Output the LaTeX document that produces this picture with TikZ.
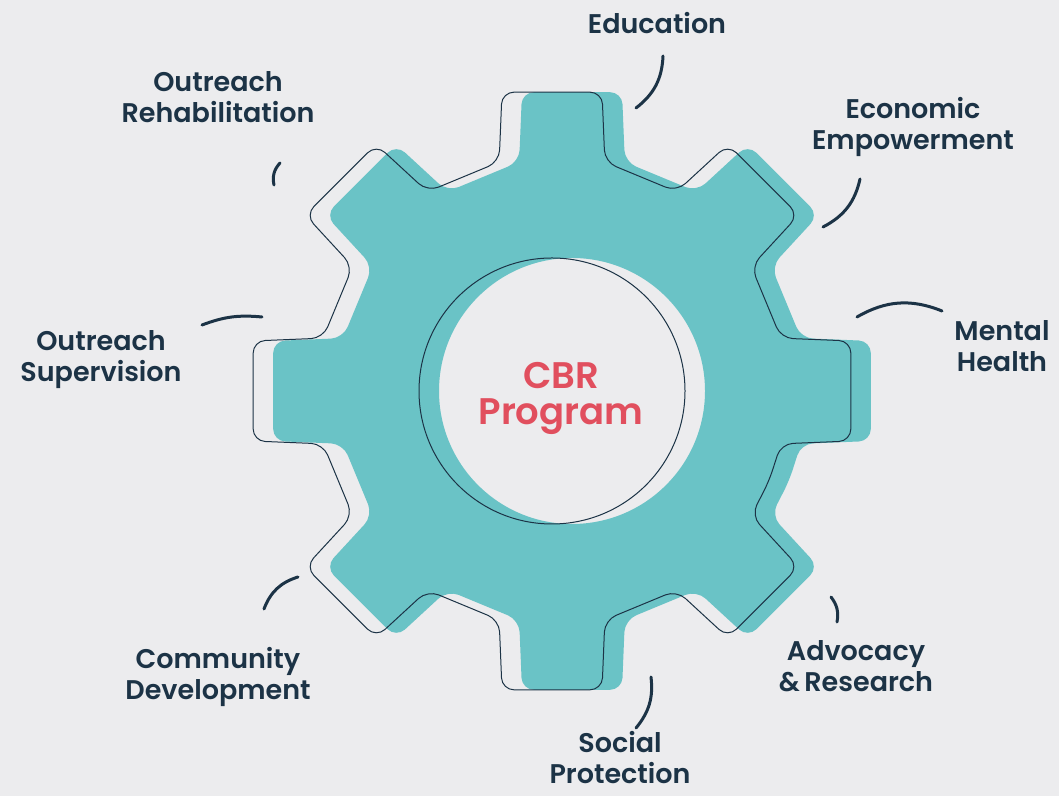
\documentclass[tikz,border=0pt]{standalone}
\usepackage{fontspec}
\setmainfont{Poppins}[BoldFont={Poppins SemiBold}]
\definecolor{paper}{HTML}{ECECEE}
\definecolor{cogteal}{HTML}{6AC3C6}
\definecolor{ink}{HTML}{1C3346}
\definecolor{rose}{HTML}{E14F5E}
\tikzset{gear/.pic={
    \path[pic actions, rounded corners=6pt] (-22.5:235)
        \foreach \a in {0,45,...,315} { -- (\a-13:235) -- (\a-9.5:303) -- (\a+9.5:303) -- (\a+13:235) } -- cycle
        (0,0) circle (133);
}}

\begin{document}
\begin{tikzpicture}[x=0.5pt, y=0.5pt, line cap=round,
    topic/.style={text=ink, align=center, font=\fontsize{13.5}{15.5}\selectfont\bfseries},
    lead/.style={ink, line width=1.5pt}]

    \fill[paper] (0,0) rectangle (1059,796);
    \useasboundingbox (0,0) rectangle (1059,796);

    % gear body and its shifted outline
    \pic[fill=cogteal, even odd rule] at (572,405) {gear};
    \pic[draw=ink, line width=0.5pt] at (552,405) {gear};

    \node[text=rose, align=center, font=\fontsize{18.5}{18}\selectfont\bfseries] (cbr) at (561,398) {CBR\\Program};

    \node[topic] (edu) at (657,773) {Education};
    \node[topic] (econ) at (913,669) {Economic\\Empowerment};
    \node[topic] (mental) at (1002,450) {Mental\\Health};
    \node[topic] (advocacy) at (856,130) {Advocacy\\\&\,Research};
    \node[topic] (social) at (620,38) {Social\\Protection};
    \node[topic] (community) at (218,119) {Community\\Development};
    \node[topic] (supervision) at (101,436) {Outreach\\Supervision};
    \node[topic] (rehab) at (218,699) {Outreach\\Rehabilitation};

    \foreach \n/\s/\e/\b in {edu/{663,740}/{636,688}/25, econ/{860,617}/{823,569}/25,
        mental/{857,479}/{942,485}/26, advocacy/{831,199}/{837,174}/24,
        social/{651,119}/{636,68}/23, community/{264,187}/{298,219}/26,
        supervision/{202,471}/{262,479}/13, rehab/{280,633}/{274,611}/-27} {
        \coordinate (\n-a) at (\s);
        \coordinate (\n-b) at (\e);
        \draw[lead] (\n-a) to[bend left=\b] (\n-b);
    }
\end{tikzpicture}
\end{document}
